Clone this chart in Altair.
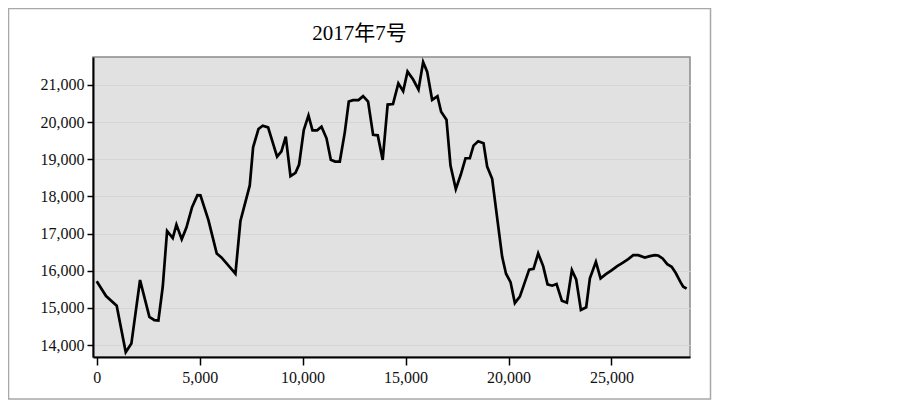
import altair as alt
import pandas as pd

title_text = "2017年7号"

x_values = [0, 453, 971, 1410, 1684, 2105, 2559, 2802, 2996, 3207, 3418, 3693, 3871, 4130,
            4357, 4632, 4891, 5038, 5426, 5830, 6057, 6495, 6738, 6980, 7434, 7596, 7855,
            8065, 8324, 8760, 8972, 9182, 9411, 9654, 9829, 10057, 10286, 10480, 10704,
            10918, 11161, 11370, 11579, 11806, 12049, 12243, 12452, 12714, 12938, 13181,
            13424, 13650, 13890, 14130, 14390, 14650, 14884, 15096, 15369, 15629, 15854,
            16048, 16291, 16550, 16728, 16988, 17183, 17441, 17684, 17911, 18122, 18300,
            18526, 18787, 18963, 19206, 19692, 19880, 20099, 20308, 20551, 21003, 21217,
            21441, 21684, 21896, 22121, 22334, 22592, 22835, 23078, 23287, 23516, 23773,
            23953, 24244, 24472, 24730, 25021, 25280, 25540, 25814, 26057, 26300, 26624,
            26867, 27110, 27271, 27485, 27709, 27923, 28117, 28360, 28487, 28651]
y_values = [15720, 15320, 15060, 13810, 14040, 15750, 14760, 14670, 14660, 15570, 17070,
            16880, 17240, 16850, 17160, 17710, 18035, 18030, 17360, 16465, 16357, 16080,
            15920, 17340, 18295, 19320, 19813, 19902, 19857, 19071, 19214, 19607, 18544,
            18633, 18857, 19786, 20178, 19777, 19777, 19875, 19563, 18983, 18937, 18937,
            19723, 20553, 20590, 20590, 20697, 20553, 19655, 19642, 18983, 20470, 20483,
            21040, 20830, 21357, 21143, 20875, 21616, 21357, 20598, 20697, 20277, 20062,
            18830, 18196, 18589, 19026, 19026, 19366, 19482, 19429, 18804, 18474, 16374,
            15920, 15695, 15130, 15305, 16030, 16053, 16465, 16125, 15634, 15598, 15643,
            15196, 15142, 16017, 15768, 14946, 15018, 15795, 16240, 15795, 15910, 16017,
            16125, 16214, 16312, 16419, 16419, 16357, 16392, 16419, 16410, 16330, 16178,
            16107, 15946, 15687, 15571, 15518]

x_ticks = [0, 5000, 10000, 15000, 20000, 25000]
y_ticks = [14000, 15000, 16000, 17000, 18000, 19000, 20000, 21000]

df = pd.DataFrame({"x": x_values, "y": y_values})
frame_df = pd.DataFrame({"k": [0]})

FONT = "Liberation Serif, Noto Sans CJK SC, serif"

line = alt.Chart(df).mark_line(color="#000000", strokeWidth=2.7, strokeJoin="miter").encode(
    x=alt.X("x:Q", title=None,
            scale=alt.Scale(domain=[-180, 28815], nice=False, zero=False),
            axis=alt.Axis(values=x_ticks, format=",.0f", grid=False, tickSize=8,
                          tickColor="#000000", tickWidth=1.5, domainColor="#000000",
                          domainWidth=2, labelPadding=4)),
    y=alt.Y("y:Q", title=None,
            scale=alt.Scale(domain=[13680, 21750], nice=False, zero=False),
            axis=alt.Axis(values=y_ticks, format=",.0f", grid=True, gridColor="#d5d5d5",
                          gridWidth=1, tickSize=6, tickColor="#000000", tickWidth=1.5,
                          domainColor="#000000", domainWidth=2, labelPadding=3)),
)

frame = alt.Chart(frame_df).mark_rect(fill=None, stroke="#a8a8a8", strokeWidth=1.5).encode(
    x=alt.value(-84.5), x2=alt.value(617.5), y=alt.value(-48.5), y2=alt.value(342)
)

chart = alt.layer(frame, line).properties(
    width=597, height=300,
    title=alt.TitleParams(title_text, font=FONT, fontSize=21, fontWeight="normal",
                          color="#000000", anchor="middle", dx=-32, offset=0, dy=36),
    padding={"left": 85, "top": 49, "right": 190, "bottom": 44},
    autosize=alt.AutoSizeParams(type="none"),
).configure_view(
    fill="#e1e1e1", stroke="#8a8a8a", strokeWidth=1.5
).configure_axis(
    labelFont=FONT, labelFontSize=16, labelColor="#111111"
)

chart.save("out.html", embed_options={"renderer": "svg", "actions": False})
